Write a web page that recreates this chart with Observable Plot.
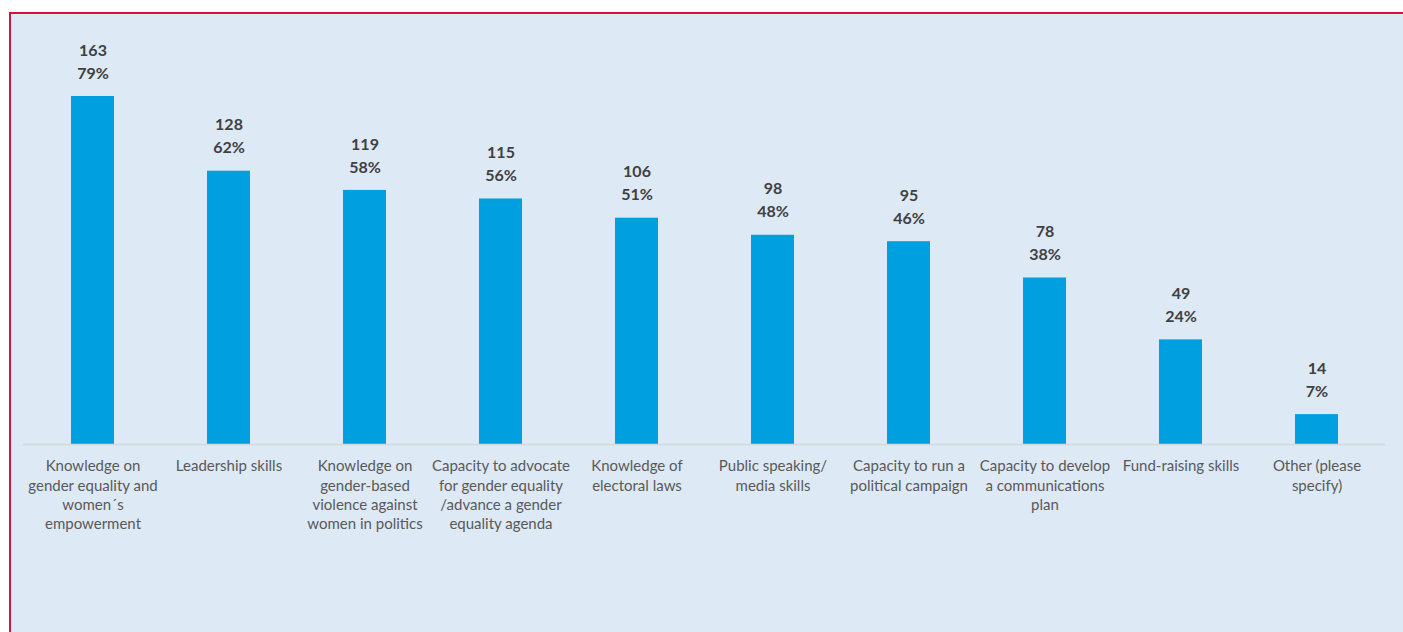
<!DOCTYPE html>
<html>
<head>
<meta charset="utf-8">
<script src="https://cdn.jsdelivr.net/npm/d3@7"></script>
<script src="https://cdn.jsdelivr.net/npm/@observablehq/plot@0.6"></script>
<style>
  html, body { margin: 0; padding: 0; background: #ffffff; overflow: hidden; }
  #panel {
    position: absolute; left: 9px; top: 12px; width: 1392px; height: 618px;
    background: #dde9f5; border-left: 2px solid #d3123f; border-top: 2px solid #d3123f;
  }
  #panel svg { display: block; }
</style>
</head>
<body>
<div id="panel"></div>
<script>
const categories = [
  "Knowledge on\ngender equality and\nwomen´s\nempowerment",
  "Leadership skills",
  "Knowledge on\ngender-based\nviolence against\nwomen in politics",
  "Capacity to advocate\nfor gender equality\n/advance a gender\nequality agenda",
  "Knowledge of\nelectoral laws",
  "Public speaking/\nmedia skills",
  "Capacity to run a\npolitical campaign",
  "Capacity to develop\na communications\nplan",
  "Fund-raising skills",
  "Other (please\nspecify)"
];
const counts = [163, 128, 119, 115, 106, 98, 95, 78, 49, 14];
const percents = ["79%", "62%", "58%", "56%", "51%", "48%", "46%", "38%", "24%", "7%"];

const data = categories.map((c, i) => ({cat: c, n: counts[i], pct: percents[i]}));

const chart = Plot.plot({
  width: 1392,
  height: 618,
  marginLeft: 12,
  marginRight: 18,
  marginTop: 82,
  marginBottom: 188,
  style: {background: "transparent", fontFamily: "Lato, 'Open Sans', sans-serif"},
  x: {domain: categories, paddingInner: 0.685, paddingOuter: 0.3425, label: null},
  y: {domain: [0, 163], axis: null},
  marks: [
    Plot.barY(data, {x: "cat", y: "n", fill: "#009fdf"}),
    Plot.ruleY([0], {stroke: "#d4d8dc", strokeWidth: 1.5}),
    Plot.axisX({tickSize: 0, tickPadding: 13, fontSize: 15, fill: "#595959", lineHeight: 1.29, lineAnchor: "top"}),
    Plot.text(data, {x: "cat", y: "n", text: d => String(d.n), dy: -46, fontSize: 16, fontWeight: "bold", fill: "#404040"}),
    Plot.text(data, {x: "cat", y: "n", text: "pct", dy: -23, fontSize: 16, fontWeight: "bold", fill: "#404040"})
  ]
});
document.getElementById("panel").appendChild(chart);
</script>
</body>
</html>
